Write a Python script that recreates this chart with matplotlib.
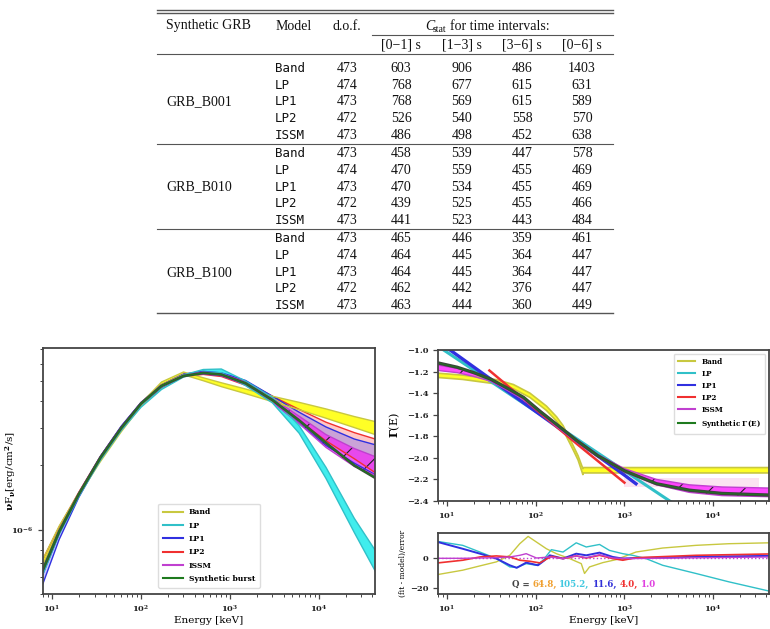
import numpy as np
import matplotlib
matplotlib.use('Agg')
import matplotlib.pyplot as plt
from matplotlib.lines import Line2D
from matplotlib.ticker import LogLocator, NullFormatter
from matplotlib.offsetbox import TextArea, HPacker, AnchoredOffsetbox

plt.rcParams['font.family'] = 'DejaVu Serif'
plt.rcParams['font.weight'] = 'bold'
plt.rcParams['mathtext.fontset'] = 'dejavuserif'
plt.rcParams['mathtext.default'] = 'bf'
plt.rcParams['hatch.linewidth'] = 0.8
plt.rcParams['axes.linewidth'] = 1.3
plt.rcParams['axes.edgecolor'] = '#444444'

# ---- table data
grbs = ['GRB_B001', 'GRB_B010', 'GRB_B100']
models = ['Band', 'LP', 'LP1', 'LP2', 'ISSM']
dof = [473, 474, 473, 472, 473]
intervals = ['[0\u22121] s', '[1\u22123] s', '[3\u22126] s', '[0\u22126] s']
cstat_b001 = [[603, 906, 486, 1403], [768, 677, 615, 631], [768, 569, 615, 589],
              [526, 540, 558, 570], [486, 498, 452, 638]]
cstat_b010 = [[458, 539, 447, 578], [470, 559, 455, 469], [470, 534, 455, 469],
              [439, 525, 455, 466], [441, 523, 443, 484]]
cstat_b100 = [[465, 446, 359, 461], [464, 445, 364, 447], [464, 445, 364, 447],
              [462, 442, 376, 447], [463, 444, 360, 449]]

# ---- nuFnu spectra (units of 1e-6 erg/cm2/s)
E_sed = [7.9, 12, 20, 35, 60, 100, 170, 300, 500, 800, 1500, 3000, 6000, 12000, 25000, 43000]
band_sed_hi = [0.73, 1.04, 1.49, 2.15, 2.96, 3.91, 4.92, 5.48, 5.15, 4.88, 4.56, 4.22, 3.95, 3.68, 3.39, 3.21]
band_sed_lo = [0.69, 1.00, 1.45, 2.09, 2.88, 3.79, 4.78, 5.32, 4.99, 4.68, 4.34, 3.98, 3.65, 3.33, 3.01, 2.79]
lp_sed_hi = [0.66, 0.99, 1.47, 2.18, 3.00, 3.85, 4.66, 5.31, 5.63, 5.66, 4.97, 4.17, 3.07, 1.96, 1.13, 0.80]
lp_sed_lo = [0.62, 0.95, 1.43, 2.12, 2.92, 3.75, 4.54, 5.19, 5.47, 5.44, 4.73, 3.93, 2.83, 1.74, 0.97, 0.64]
lp1_sed_hi = [0.62, 0.96, 1.48, 2.21, 3.06, 3.95, 4.78, 5.36, 5.52, 5.43, 5.00, 4.22, 3.55, 3.03, 2.66, 2.50]
lp1_sed_lo = [0.56, 0.90, 1.42, 2.15, 2.98, 3.85, 4.66, 5.24, 5.38, 5.27, 4.80, 3.98, 3.15, 2.48, 2.05, 1.81]
lp2_sed_hi = [0.73, 1.03, 1.50, 2.21, 3.04, 3.93, 4.76, 5.34, 5.46, 5.38, 4.95, 4.22, 3.66, 3.19, 2.85, 2.66]
lp2_sed_lo = [0.67, 0.98, 1.46, 2.15, 2.96, 3.83, 4.64, 5.22, 5.34, 5.22, 4.75, 3.98, 3.24, 2.61, 2.15, 1.85]
issm_sed_hi = [0.67, 0.99, 1.49, 2.20, 3.03, 3.94, 4.77, 5.33, 5.47, 5.39, 4.92, 4.13, 3.40, 2.79, 2.40, 2.20]
issm_sed_lo = [0.64, 0.96, 1.45, 2.16, 2.97, 3.86, 4.67, 5.23, 5.37, 5.27, 4.78, 3.97, 3.14, 2.43, 1.98, 1.80]
synth_sed = [0.65, 0.98, 1.47, 2.18, 3.00, 3.90, 4.72, 5.25, 5.42, 5.33, 4.85, 4.05, 3.25, 2.55, 2.00, 1.75]

# ---- photon index Gamma(E)
E_band_g = [7.9, 15, 36, 56, 86, 132, 172, 203, 262, 300, 340, 345, 43000]
band_g_hi = [-1.215, -1.233, -1.275, -1.32, -1.40, -1.52, -1.62, -1.70, -1.88, -1.98, -2.10, -2.09, -2.09]
band_g_lo = [-1.255, -1.273, -1.315, -1.36, -1.44, -1.56, -1.66, -1.74, -1.92, -2.02, -2.155, -2.14, -2.14]
E_lp_g = [7.9, 100, 1000, 4000]
lp_g = [-0.965, -1.57, -2.12, -2.45]
E_lp1_g = [7.9, 100, 1000, 1350]
lp1_g = [-0.92, -1.57, -2.16, -2.24]
E_lp2_g = [30, 100, 300, 1000]
lp2_g = [-1.19, -1.55, -1.88, -2.23]
E_issm_g = [7.9, 13, 20, 31, 47, 73, 112, 172, 290, 500, 1000, 2300, 5400, 12600, 43000]
issm_g_hi = [-1.14, -1.17, -1.215, -1.27, -1.345, -1.44, -1.56, -1.685, -1.835, -1.97, -2.10, -2.20, -2.25, -2.27, -2.28]
issm_g_lo = [-1.19, -1.21, -1.245, -1.29, -1.37, -1.46, -1.58, -1.71, -1.855, -1.99, -2.13, -2.25, -2.32, -2.35, -2.36]
synth_g = [-1.12, -1.16, -1.21, -1.27, -1.35, -1.44, -1.57, -1.69, -1.84, -1.98, -2.12, -2.24, -2.30, -2.33, -2.345]
E_faint = [1000, 33000]
faint_hi = [-2.19, -2.19]
faint_lo = [-2.27, -2.27]

# ---- residuals (fit - model)/error
E_res_band = [7.9, 15, 23.5, 36, 51, 66, 82, 102, 132, 171, 241, 326, 355, 404, 571, 806, 1350, 2700, 6400, 15000, 42600]
res_band = [-10.9, -8, -5.1, -2.4, 2, 9.8, 14.7, 10.9, 6.4, 3.1, -0.2, -3.6, -10.2, -5.8, -2.9, -0.9, 4.2, 6.9, 8.7, 9.8, 10.4]
E_res_lp = [7.9, 15, 23.5, 36, 51, 61, 78, 102, 121, 150, 203, 286, 371, 524, 678, 958, 1240, 1750, 2700, 6400, 15000, 42600]
res_lp = [11.3, 8.7, 4.2, -0.2, -5.8, -6.2, -3.6, -4.7, -1.3, 5.8, 4.2, 10.4, 7.6, 9.3, 5.3, 3.1, 2.0, -0.2, -4.7, -10.2, -15.8, -22]
E_res_lp1 = [7.9, 15, 23.5, 36, 51, 61, 78, 106, 126, 144, 203, 286, 371, 524, 740, 958, 1350, 2700, 6400, 42600]
res_lp1 = [10.9, 6.4, 3.1, -0.2, -4.7, -6.4, -2.9, -4.7, -1.3, 2.0, -0.2, 3.1, 2.0, 3.8, 0.9, -0.2, 0.2, 0.4, 1.1, 1.6]
E_res_lp2 = [7.9, 15, 23.5, 36, 51, 66, 86, 111, 150, 203, 286, 371, 524, 740, 958, 1350, 6400, 42600]
res_lp2 = [-3.1, -1.3, 0.9, 1.6, 0.9, -1.3, -2.0, -3.1, 1.3, -0.2, 1.6, 0.2, 2.0, -0.2, -1.3, 0.4, 2.0, 2.9]
E_res_issm = [7.9, 15, 36, 51, 66, 78, 102, 144, 203, 286, 371, 524, 740, 1140, 42600]
res_issm = [0, 0, 0.4, 0.9, 2.0, 3.1, 0.2, 0.9, -0.2, 1.6, 0.4, 2.4, 0.2, -0.2, 0.9]

q_values = ['64.8,', '105.2,', '11.6,', '4.0,', '1.0']
q_colors = ['#f0a030', '#40c8e0', '#3030d8', '#f03030', '#e040e0']

col = {'Band': '#c8c840', 'LP': '#30c0c8', 'LP1': '#3030e0', 'LP2': '#f03030',
       'ISSM': '#c040d0', 'synth': '#1e7a1e'}

fig = plt.figure(figsize=(7.7, 6.29), dpi=100)

# ================= table
axt = fig.add_axes([0, 0, 1, 1])
axt.set_xlim(0, 770)
axt.set_ylim(629, 0)
axt.set_axis_off()
tkw = dict(family='Liberation Serif', fontweight='normal', fontsize=10, color='#111111')
mkw = dict(family='DejaVu Sans Mono', fontweight='normal', fontsize=9, color='#111111')
rule = dict(color='#555555')
x0, x1 = 157, 613
axt.plot([x0, x1], [9.8, 9.8], lw=1.0, **rule)
axt.plot([x0, x1], [12.6, 12.6], lw=1.0, **rule)
axt.plot([372, x1], [35, 35], lw=0.8, **rule)
axt.plot([x0, x1], [53.5, 53.5], lw=0.8, **rule)
axt.plot([x0, x1], [144.3, 144.3], lw=0.8, **rule)
axt.plot([x0, x1], [229.3, 229.3], lw=0.8, **rule)
axt.plot([x0, x1], [313.3, 313.3], lw=1.0, **rule)

axt.text(166, 26, 'Synthetic GRB', ha='left', va='center', **tkw)
axt.text(294, 26, 'Model', ha='center', va='center', **tkw)
axt.text(347, 26, 'd.o.f.', ha='center', va='center', **tkw)
axt.text(425, 26, 'C', ha='left', va='center', fontstyle='italic', **tkw)
axt.text(433, 29.5, 'stat', ha='left', va='center', family='Liberation Serif',
         fontweight='normal', fontsize=7, color='#111111')
axt.text(450, 26, 'for time intervals:', ha='left', va='center', **tkw)
xcols = [401, 462, 522, 582]
for xc, lab in zip(xcols, intervals):
    axt.text(xc, 45, lab, ha='center', va='center', **tkw)

for g, (name, table) in enumerate(zip(grbs, [cstat_b001, cstat_b010, cstat_b100])):
    ybase = 68.5 + g * 85.2
    axt.text(166, ybase + 2 * 16.7, name, ha='left', va='center', **tkw)
    for r, m in enumerate(models):
        y = ybase + r * 16.7
        axt.text(275, y, m, ha='left', va='center', **mkw)
        axt.text(347, y, str(dof[r]), ha='center', va='center', **tkw)
        for xc, v in zip(xcols, table[r]):
            axt.text(xc, y, str(v), ha='center', va='center', **tkw)


def style_axis(ax):
    ax.set_xscale('log')
    ax.set_xlim(7.9, 42700)
    ax.tick_params(which='major', labelsize=6, length=3.5, width=0.9, colors='#444444', labelcolor='#222222')
    ax.tick_params(which='minor', length=2, width=0.7, colors='#444444')
    ax.xaxis.set_major_locator(LogLocator(base=10))
    ax.xaxis.set_minor_locator(LogLocator(base=10, subs=np.arange(2, 10)))
    ax.xaxis.set_minor_formatter(NullFormatter())


def draw_band(ax, x, lo, hi, edge, face, alpha, hatch=None, lw=1.0, scale=1.0):
    lo = np.array(lo) * scale
    hi = np.array(hi) * scale
    ax.fill_between(x, lo, hi, facecolor=face, alpha=alpha, lw=0)
    if hatch:
        ax.fill_between(x, lo, hi, facecolor='none', edgecolor='#222222', hatch=hatch, lw=0)
    ax.plot(x, lo, color=edge, lw=lw)
    ax.plot(x, hi, color=edge, lw=lw)


# ================= nuFnu panel
ax1 = fig.add_axes([43 / 770, 35 / 629, 332 / 770, 246 / 629])
s = 1e-6
draw_band(ax1, E_sed, lp2_sed_lo, lp2_sed_hi, col['LP2'], '#ff6060', 0.35, scale=s)
draw_band(ax1, E_sed, lp1_sed_lo, lp1_sed_hi, col['LP1'], '#5050ff', 0.3, scale=s)
draw_band(ax1, E_sed, issm_sed_lo, issm_sed_hi, col['ISSM'], '#ff00ff', 0.55, hatch='/', scale=s)
draw_band(ax1, E_sed, band_sed_lo, band_sed_hi, col['Band'], '#ffff00', 0.85, scale=s)
draw_band(ax1, E_sed, lp_sed_lo, lp_sed_hi, col['LP'], '#00e8e8', 0.75, scale=s)
ax1.plot(E_sed, np.array(synth_sed) * s, color='#3a4a3a', lw=2.0)
ax1.plot(E_sed, np.array(synth_sed) * s, color=col['synth'], lw=0.8)
ax1.set_yscale('log')
ax1.set_ylim(5.0e-7, 7.1e-6)
style_axis(ax1)
ax1.yaxis.set_minor_formatter(NullFormatter())
ax1.set_xlabel('Energy [keV]', fontsize=7.5, labelpad=1)
ax1.set_ylabel(r'$\nu$F$_\nu$[erg/cm$^2$/s]', fontsize=7.5)
ax1.yaxis.set_label_coords(-0.075, 0.5)

labels_sed = ['Band', 'LP', 'LP1', 'LP2', 'ISSM', 'Synthetic burst']
handles = [Line2D([], [], color=col[k], lw=1.5) for k in ['Band', 'LP', 'LP1', 'LP2', 'ISSM', 'synth']]
ax1.legend(handles, labels_sed, loc='lower center', bbox_to_anchor=(0.5, 0.01),
           handlelength=2.6, labelspacing=0.7, borderpad=0.6, framealpha=1, edgecolor='#dddddd',
           prop={'size': 5.5, 'weight': 'bold'})

# ================= Gamma panel
ax2 = fig.add_axes([438 / 770, 128 / 629, 331 / 770, 151 / 629])
ax2.fill_between(E_faint, faint_lo, faint_hi, facecolor='#f6b0d8', alpha=0.35, lw=0)
draw_band(ax2, E_band_g, band_g_lo, band_g_hi, col['Band'], '#ffff00', 0.85, lw=1.2)
ax2.plot(E_lp_g, lp_g, color=col['LP'], lw=2.2)
ax2.plot(E_lp1_g, lp1_g, color=col['LP1'], lw=2.4)
ax2.plot(E_lp2_g, lp2_g, color=col['LP2'], lw=1.8)
draw_band(ax2, E_issm_g, issm_g_lo, issm_g_hi, col['ISSM'], '#ff00ff', 0.7, hatch='/', lw=1.0)
ax2.plot(E_issm_g, synth_g, color='#3a463a', lw=2.4)
ax2.plot(E_issm_g, synth_g, color=col['synth'], lw=0.6)
style_axis(ax2)
ax2.set_ylim(-2.4, -1.0)
ax2.set_yticks(np.arange(-2.4, -0.99, 0.2))
ax2.set_ylabel(r'$\Gamma$(E)', fontsize=8, labelpad=3)
labels_g = ['Band', 'LP', 'LP1', 'LP2', 'ISSM', r'Synthetic $\Gamma$(E)']
ax2.legend(handles, labels_g, loc='upper right', handlelength=2.4, labelspacing=0.55,
           borderpad=0.6, framealpha=1, edgecolor='#dddddd', prop={'size': 5.2, 'weight': 'bold'})

# ================= residual panel
ax3 = fig.add_axes([438 / 770, 35 / 629, 331 / 770, 61 / 629])
ax3.axhline(0, color='#c040d0', lw=1.0, ls=':')
ax3.plot(E_res_band, res_band, color=col['Band'], lw=1.0)
ax3.plot(E_res_lp, res_lp, color=col['LP'], lw=1.0)
ax3.plot(E_res_lp1, res_lp1, color=col['LP1'], lw=1.4)
ax3.plot(E_res_lp2, res_lp2, color=col['LP2'], lw=1.2)
ax3.plot(E_res_issm, res_issm, color=col['ISSM'], lw=1.0)
style_axis(ax3)
ax3.set_ylim(-24, 17)
ax3.set_yticks([-20, 0])
ax3.set_xlabel('Energy [keV]', fontsize=7.5, labelpad=1)
ax3.set_ylabel('(fit - model)/error', fontsize=5.5, labelpad=2)

parts = [TextArea('Q =', textprops=dict(color='#444444', fontsize=6.2, fontweight='bold'))]
for v, c in zip(q_values, q_colors):
    parts.append(TextArea(v, textprops=dict(color=c, fontsize=6.2, fontweight='bold')))
box = HPacker(children=parts, align='baseline', pad=0, sep=2)
ab = AnchoredOffsetbox(loc='center', child=box, pad=0, borderpad=0, frameon=False,
                       bbox_to_anchor=(0.441, 0.16), bbox_transform=ax3.transAxes)
ax3.add_artist(ab)

fig.savefig('out.png', dpi=100)
